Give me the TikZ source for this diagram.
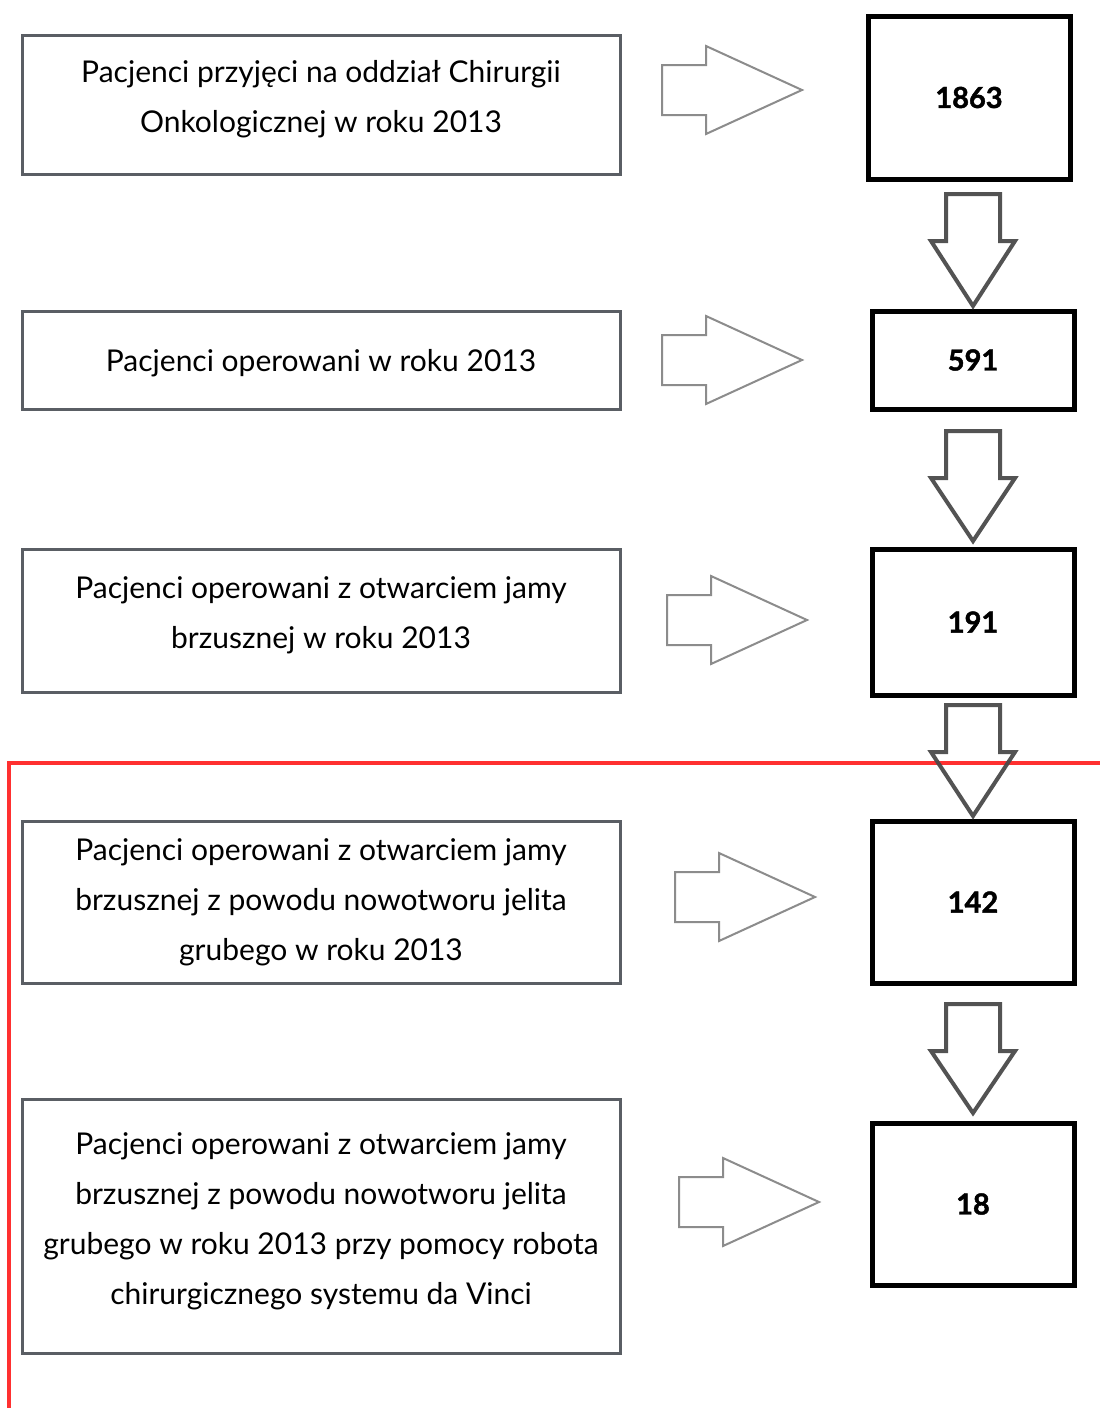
\documentclass[tikz,border=0pt]{standalone}
\usepackage{fontspec}
\setmainfont{Lato}
\newfontfamily\numfont[BoldFeatures={FakeBold=1.5}]{Lato}
\begin{document}
\begin{tikzpicture}[x=1pt,y=-1pt,
  leftbox/.style={draw=boxgray,line width=3pt,minimum width=598pt,align=center,inner sep=0pt,
    font=\fontsize{30}{50}\selectfont,text=black},
  boxtext/.style={leftbox,draw=none,minimum width=0pt,anchor=center},
  numbox/.style={draw=black,line width=5pt,minimum width=202pt,inner sep=0pt,
    font=\fontsize{29}{30}\numfont\bfseries},
  dnarr/.style={draw=arrdark,line width=4pt,draw opacity=0.95,line join=miter},
  rtarr/.style={draw=arrlight,line width=2pt,line join=miter},
  redline/.style={draw=redc,line width=4pt}]
\definecolor{boxgray}{HTML}{5A5E64}
\definecolor{arrdark}{HTML}{4A4A4A}
\definecolor{arrlight}{HTML}{8C8C8C}
\definecolor{redc}{HTML}{FF3030}
\useasboundingbox (0,0) rectangle (1100,1408);
\fill[white] (0,0) rectangle (1100,1408);

% red frame
\coordinate (rc) at (9,763);
\coordinate (rr) at (1100,763);
\coordinate (rb) at (9,1408);
\draw[redline] (rr) -- (rc) -- (rb);

% left boxes (box outlines)
\node[leftbox,minimum height=139pt] (l1) at (321,104.5) {};
\node[leftbox,minimum height=98pt] (l2) at (321,360) {};
\node[leftbox,minimum height=143pt] (l3) at (321,620.5) {};
\node[leftbox,minimum height=162pt] (l4) at (321,902) {};
\node[leftbox,minimum height=254pt] (l5) at (321,1226) {};
% left box texts
\node[boxtext] (t1) at ([yshift=5.5pt]l1.center) {Pacjenci przyjęci na oddział Chirurgii\\Onkologicznej w roku 2013};
\node[boxtext] (t2) at ([yshift=-3pt]l2.center) {Pacjenci operowani w roku 2013};
\node[boxtext] (t3) at ([yshift=5.5pt]l3.center) {Pacjenci operowani z otwarciem jamy\\brzusznej w roku 2013};
\node[boxtext] (t4) at ([yshift=0pt]l4.center) {Pacjenci operowani z otwarciem jamy\\brzusznej z powodu nowotworu jelita\\grubego w roku 2013};
\node[boxtext] (t5) at ([yshift=5pt]l5.center) {Pacjenci operowani z otwarciem jamy\\brzusznej z powodu nowotworu jelita\\grubego w roku 2013 przy pomocy robota\\chirurgicznego systemu da Vinci};

% number boxes
\node[numbox,minimum height=163pt] (r1) at (969,97.5) {1863};
\node[numbox,minimum height=98pt] (r2) at (973,360) {591};
\node[numbox,minimum height=146pt] (r3) at (973,622) {191};
\node[numbox,minimum height=162pt] (r4) at (973,902) {142};
\node[numbox,minimum height=162pt] (r5) at (973,1204) {18};

% right block arrows
\newcommand\rtblock[2]{%
  \draw[rtarr] (#1,#2-25) -- (#1+44,#2-25) -- (#1+44,#2-44) -- (#1+140,#2) -- (#1+44,#2+44) -- (#1+44,#2+25) -- (#1,#2+25) -- cycle;}
\rtblock{662}{90}
\rtblock{662}{360}
\rtblock{667}{620}
\rtblock{675}{897}
\rtblock{679}{1202}

% down block arrows
\newcommand\dnblock[2]{%
  \draw[dnarr] (973-27,#1) -- (973+27,#1) -- (973+27,#1+47) -- (973+42,#1+47) -- (973,#2) -- (973-42,#1+47) -- (973-27,#1+47) -- cycle;}
\dnblock{194}{306}
\dnblock{431}{541}
\dnblock{705}{816}
\dnblock{1004}{1113}
\end{tikzpicture}
\end{document}
